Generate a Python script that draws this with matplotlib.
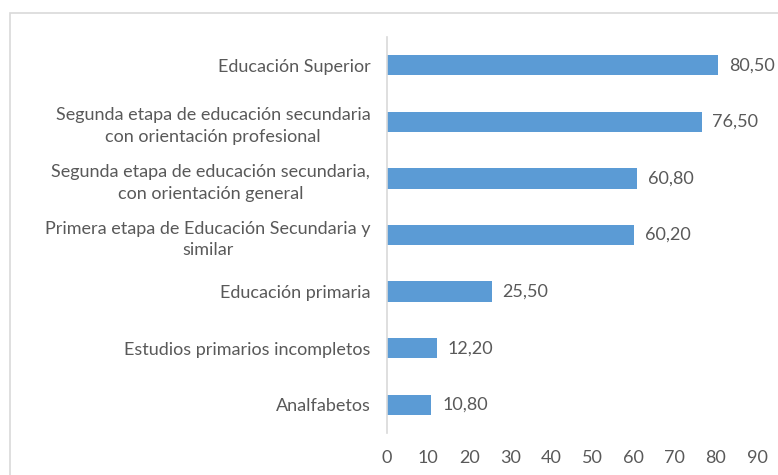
import matplotlib.pyplot as plt
from matplotlib.patches import Rectangle

categorias = [
    "Educación Superior",
    "Segunda etapa de educación secundaria\ncon orientación profesional",
    "Segunda etapa de educación secundaria,\ncon orientación general",
    "Primera etapa de Educación Secundaria y\nsimilar",
    "Educación primaria",
    "Estudios primarios incompletos",
    "Analfabetos",
]
valores = [80.50, 76.50, 60.80, 60.20, 25.50, 12.20, 10.80]
ticks_x = [0, 10, 20, 30, 40, 50, 60, 70, 80, 90]

plt.rcParams['font.family'] = ['Lato', 'DejaVu Sans']
gris = '#595959'
fs = 13

fig = plt.figure(figsize=(7.78, 4.75), dpi=100)
W, H = 778, 475
# marco del gráfico
fig.patches.append(Rectangle((10 / W, -0.1), 1.0, 1 - 13 / H + 0.1,
                             transform=fig.transFigure, fill=False,
                             edgecolor='#D9D9D9', linewidth=1.2))

ax = fig.add_axes([387 / W, 1 - 433 / H, 370 / W, 396 / H])
pos = list(range(len(categorias)))
ax.barh(pos, valores, height=0.36, color='#5B9BD5')
for p, v in zip(pos, valores):
    ax.text(v + 2.6, p, f"{v:.2f}".replace('.', ','), va='center', ha='left',
            fontsize=fs, color=gris)

ax.set_xlim(0, 90)
ax.set_ylim(len(categorias) - 0.5, -0.5)
ax.set_yticks(pos)
ax.set_yticklabels(categorias, fontsize=fs, color=gris,
                   multialignment='center', linespacing=1.45)
ax.set_xticks(ticks_x)
ax.set_xticklabels([str(t) for t in ticks_x], fontsize=fs, color=gris)
ax.tick_params(axis='both', length=0)
ax.tick_params(axis='y', pad=12)
ax.tick_params(axis='x', pad=12)
for s in ['top', 'right', 'bottom']:
    ax.spines[s].set_visible(False)
ax.spines['left'].set_color('#D9D9D9')
ax.spines['left'].set_linewidth(1.2)

fig.savefig('out.png', dpi=100)
